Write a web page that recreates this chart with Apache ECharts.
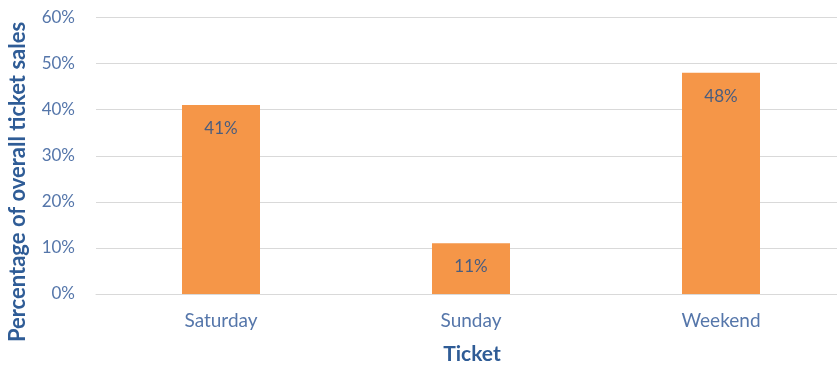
<!DOCTYPE html>
<html>
<head>
<meta charset="utf-8">
<script src="https://cdn.jsdelivr.net/npm/echarts@6/dist/echarts.min.js"></script>
<style>
  html, body { margin: 0; padding: 0; background: #fff; }
  #chart { width: 837px; height: 367px; }
</style>
</head>
<body>
<div id="chart"></div>
<script>
// Share of overall ticket sales by ticket type
const categories = ['Saturday', 'Sunday', 'Weekend'];
const shares = [0.41, 0.11, 0.48];
const yTicks = [0, 0.1, 0.2, 0.3, 0.4, 0.5, 0.6];

const FONT = 'Lato, "Noto Sans", sans-serif';
const pct = v => Math.round(v * 100) + '%';

const chart = echarts.init(document.getElementById('chart'), null, { renderer: 'canvas' });
chart.setOption({
  animation: false,
  backgroundColor: '#ffffff',
  grid: {
    left: 96, top: 17.5, width: 750, height: 276.5,
    containLabel: false, outerBoundsMode: 'none'
  },
  xAxis: {
    type: 'category',
    data: categories,
    axisLine: { show: true, lineStyle: { color: '#d9d9d9', width: 1 } },
    axisTick: { show: false },
    axisLabel: { color: '#5576aa', fontFamily: FONT, fontSize: 19, margin: 17 }
  },
  yAxis: {
    type: 'value',
    min: yTicks[0],
    max: yTicks[yTicks.length - 1],
    interval: 0.1,
    axisLine: { show: false },
    axisTick: { show: false },
    splitLine: { lineStyle: { color: '#d9d9d9', width: 1 } },
    axisLabel: { color: '#5576aa', fontFamily: FONT, fontSize: 17, margin: 21, formatter: pct }
  },
  series: [{
    type: 'bar',
    data: shares,
    barWidth: 78,
    itemStyle: { color: '#f59648' },
    label: {
      show: true,
      position: 'insideTop',
      distance: 15,
      color: '#4a5d7e',
      fontFamily: FONT,
      fontSize: 17,
      formatter: p => pct(p.value)
    }
  }],
  graphic: [
    {
      type: 'text',
      x: 472, y: 354,
      style: {
        text: 'Ticket', fill: '#2f5c96', font: 'bold 21px ' + FONT,
        align: 'center', verticalAlign: 'middle'
      }
    },
    {
      type: 'text',
      x: 18, y: 182,
      rotation: Math.PI / 2,
      style: {
        text: 'Percentage of overall ticket sales', fill: '#2f5c96', font: 'bold 22px ' + FONT,
        align: 'center', verticalAlign: 'middle'
      }
    }
  ]
});
</script>
</body>
</html>
